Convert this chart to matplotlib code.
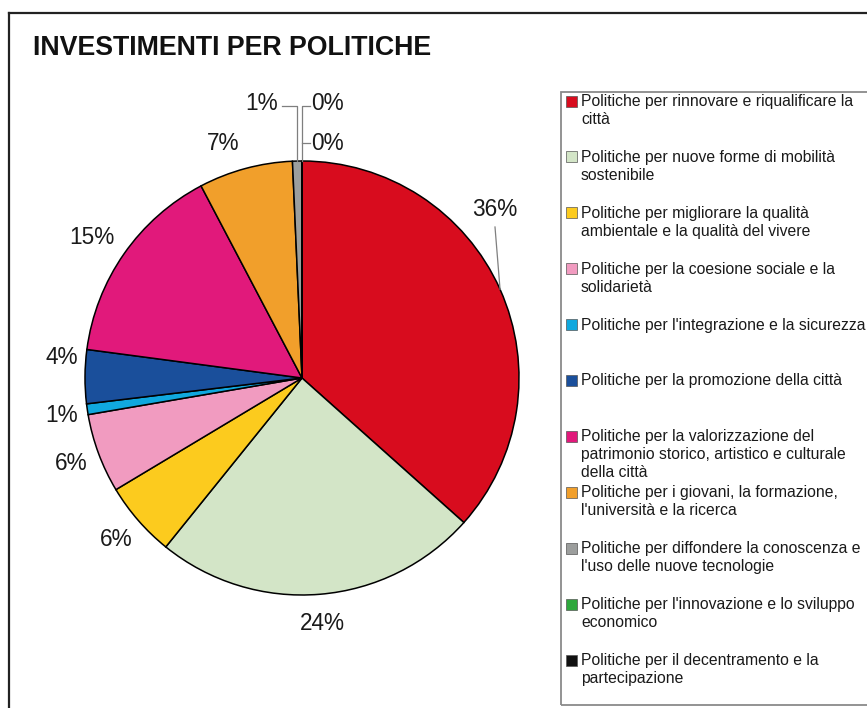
import matplotlib
matplotlib.use("Agg")
import matplotlib.pyplot as plt
from matplotlib.lines import Line2D
from matplotlib.patches import Rectangle
import numpy as np

plt.rcParams['font.family'] = ['Liberation Sans', 'DejaVu Sans']

title = "INVESTIMENTI PER POLITICHE"
categories = [
    "Politiche per rinnovare e riqualificare la\ncittà",
    "Politiche per nuove forme di mobilità\nsostenibile",
    "Politiche per migliorare la qualità\nambientale e la qualità del vivere",
    "Politiche per la coesione sociale e la\nsolidarietà",
    "Politiche per l'integrazione e la sicurezza",
    "Politiche per la promozione della città",
    "Politiche per la valorizzazione del\npatrimonio storico, artistico e culturale\ndella città",
    "Politiche per i giovani, la formazione,\nl'università e la ricerca",
    "Politiche per diffondere la conoscenza e\nl'uso delle nuove tecnologie",
    "Politiche per l'innovazione e lo sviluppo\neconomico",
    "Politiche per il decentramento e la\npartecipazione",
]
values = [36.6, 24.2, 5.6, 5.9, 0.8, 4.0, 15.2, 7.0, 0.7, 0.0, 0.0]
pct_labels = ["36%", "24%", "6%", "6%", "1%", "4%", "15%", "7%", "1%", "0%", "0%"]
colors = ["#D80C1E", "#D3E5C7", "#FCCB1E", "#F19BC0", "#10A8DE", "#1A4F9B",
          "#E1197B", "#F19F2B", "#9C9E9D", "#2EA83C", "#111111"]

W, H = 867, 708
fig = plt.figure(figsize=(W / 100, H / 100), dpi=100)

# pie geometry in pixels
cx, cy, R = 302, 378, 217
ax = fig.add_axes([(cx - R) / W, (H - cy - R) / H, 2 * R / W, 2 * R / H])

def px(x, y):
    return ((x - cx) / R, (cy - y) / R)

wedges, texts = ax.pie(values, colors=colors, startangle=90, counterclock=False,
                       labels=pct_labels, labeldistance=1.135,
                       wedgeprops=dict(edgecolor='black', linewidth=1.1),
                       textprops=dict(fontsize=16.3, color='#1a1a1a'))
ax.set_xlim(-1, 1)
ax.set_ylim(-1, 1)
ax.set_aspect('equal')
ax.axis('off')

for t in texts:
    t.set_clip_on(False)
    t.set_ha('center')
    t.set_va('center')

mids = [np.deg2rad((w.theta1 + w.theta2) / 2) for w in wedges]
lc = '#7f7f7f'

# 36% label with leader
texts[0].set_position(px(495, 210))
x0, y0 = np.cos(mids[0]), np.sin(mids[0])
ax.plot([x0, px(495, 227)[0]], [y0, px(495, 227)[1]], color=lc, lw=0.9, clip_on=False)

# small labels adjustments
texts[4].set_position(px(62, 415))
texts[5].set_position(px(62, 357))
texts[6].set_position(px(92, 237))
texts[7].set_position(px(223, 143))

# 1% gray label with elbow leader
gx, gy = np.cos(mids[8]), np.sin(mids[8])
ly = px(0, 106)[1]
texts[8].set_position(px(262, 104))
ax.plot([gx, gx, px(282, 0)[0]], [gy, ly, ly], color=lc, lw=0.9, clip_on=False)

# 0% labels with leaders
zx, zy = np.cos(mids[9]), np.sin(mids[9])
ly2 = px(0, 143)[1]
texts[9].set_position(px(311, 104))
texts[9].set_ha('left')
texts[10].set_position(px(311, 143))
texts[10].set_ha('left')
ax.plot([zx, zx, px(310, 0)[0]], [zy, ly, ly], color=lc, lw=0.9, clip_on=False)
ax.plot([zx, px(310, 0)[0]], [ly2, ly2], color=lc, lw=0.9, clip_on=False)

# title
fig.text(33 / W, 1 - 48 / H, title, fontsize=19.3, fontweight='bold',
         ha='left', va='center', color='#111111')

# outer frame lines
fig.add_artist(Line2D([9 / W, 9 / W], [0, 1 - 13 / H], color='#222222', lw=1.6))
fig.add_artist(Line2D([9 / W, 1.0], [1 - 13 / H, 1 - 13 / H], color='#222222', lw=1.6))

# legend box
fig.add_artist(Rectangle((561 / W, 1 - 705 / H), (W + 20 - 561) / W, (705 - 92) / H,
                         transform=fig.transFigure, fill=False, edgecolor='#8a8a8a', lw=1.3))
y_first, step = 101, 55.9
for i, (lab, col) in enumerate(zip(categories, colors)):
    yy = y_first + step * i
    fig.add_artist(Rectangle((566 / W, 1 - (yy + 5.5) / H), 11 / W, 11 / H,
                             transform=fig.transFigure, facecolor=col,
                             edgecolor='#555555', lw=0.5))
    fig.text(581 / W, 1 - (yy - 7) / H, lab, fontsize=11.3, ha='left', va='top',
             color='#1a1a1a', linespacing=1.24)

fig.savefig("out.png", dpi=100)
